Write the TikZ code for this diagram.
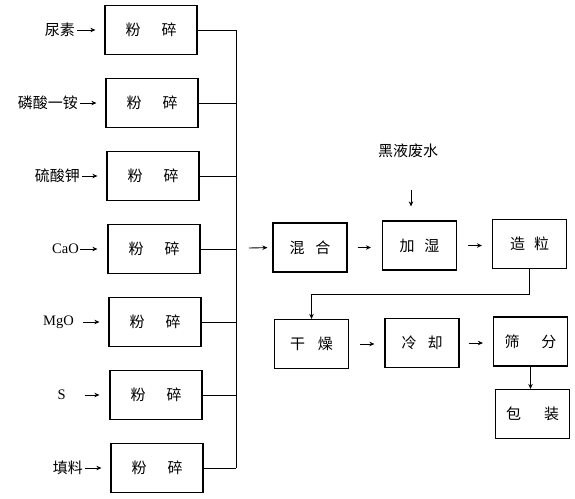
\documentclass[tikz,border=0pt]{standalone}
\usepackage{fontspec}
\setmainfont{Liberation Serif}
\newfontfamily\cjk{Noto Sans CJK SC}
\usetikzlibrary{arrows.meta}
\begin{document}
\begin{tikzpicture}[x=1pt,y=-1pt,
  every node/.style={font=\cjk\fontsize{15}{17}\selectfont},
  lbox/.style={draw,line width=1.2pt,minimum width=92pt,minimum height=49pt,inner sep=0pt},
  rbox/.style={draw,line width=1.2pt,minimum width=74pt,minimum height=49pt,inner sep=0pt},
  lbl/.style={anchor=east,inner sep=0pt},
  latin/.style={font=\fontsize{14.5}{16}\selectfont},
  ln/.style={line width=0.9pt},
  arr/.style={line width=0.9pt,-{Stealth[length=5pt,width=4.5pt]}}]
\useasboundingbox (0,0) rectangle (575,498);
% left column boxes
\node[lbox] (b1) at (151,30)  {粉\hspace{21pt}碎\hspace{18pt}};
\node[lbox] (b2) at (152,103) {粉\hspace{21pt}碎\hspace{18pt}};
\node[lbox] (b3) at (153,176) {粉\hspace{21pt}碎\hspace{18pt}};
\node[lbox] (b4) at (154,249) {粉\hspace{21pt}碎\hspace{18pt}};
\node[lbox] (b5) at (155,322) {粉\hspace{21pt}碎\hspace{18pt}};
\node[lbox] (b6) at (156,395) {粉\hspace{21pt}碎\hspace{18pt}};
\node[lbox] (b7) at (157,468) {粉\hspace{21pt}碎\hspace{18pt}};
% labels
\node[lbl] (l1) at (75,30)  {尿素};
\node[lbl] (l2) at (78,103) {磷酸一铵};
\node[lbl] (l3) at (80,176) {硫酸钾};
\node[lbl,latin] (l4) at (79,249) {CaO};
\node[lbl,latin] (l5) at (74,322) {MgO};
\node[lbl,latin] (l6) at (66,395) {S};
\node[lbl] (l7) at (83,468) {填料};
\draw[arr,shorten <=2pt,shorten >=9pt] (l1.east) -- (b1.west);
\draw[arr,shorten <=2pt,shorten >=9pt] (l2.east) -- (b2.west);
\draw[arr,shorten <=2pt,shorten >=9pt] (l3.east) -- (b3.west);
\draw[arr,shorten <=1pt,shorten >=10pt] (l4.east) -- (b4.west);
\draw[arr,shorten <=9pt,shorten >=9pt] (l5.east) -- (b5.west);
\draw[arr,shorten <=19pt,shorten >=10pt] (l6.east) -- (b6.west);
\draw[arr,shorten <=2pt,shorten >=9pt] (l7.east) -- (b7.west);
% bus
\coordinate (bus) at (236,0);
\foreach \b in {b1,b2,b3,b4,b5,b6,b7}
  \draw[ln] (\b.east) -- (\b.east -| bus);
\draw[ln] (b1.east -| bus) -- (b7.east -| bus);
% right side
\node[rbox] (mix)   at (310,247.5) {混\hspace{11pt}合\hspace{12pt}};
\node[rbox] (hum)   at (419.5,245.5) {加\hspace{10pt}湿\hspace{8pt}};
\node[rbox] (gran)  at (529.5,244) {造\hspace{9pt}粒\hspace{10pt}};
\node[rbox] (dry)   at (311.5,344) {干\hspace{13pt}燥\hspace{10pt}};
\node[rbox] (cool)  at (422,343) {冷\hspace{11pt}却\hspace{10pt}};
\node[rbox] (sieve) at (530.5,341.5) {筛\hspace{22pt}分};
\node[rbox] (pack)  at (532.5,414) {包\hspace{23pt}装};
\coordinate (mixin) at (249,248);
\draw[arr,shorten >=5pt] (mixin) -- (mix.west);
\draw[arr,shorten <=10pt,shorten >=11pt] (mix.east) -- (mix.east -| hum.west);
\draw[arr,shorten <=11pt,shorten >=10pt] (hum.east) -- (hum.east -| gran.west);
\draw[arr,shorten <=11pt,shorten >=10pt] (dry.east) -- (dry.east -| cool.west);
\draw[arr,shorten <=9pt,shorten >=10pt] (cool.east) -- (cool.east -| sieve.west);
\node (ww) at (408,151) {黑液废水};
\coordinate (wwa) at (411,190);
\draw[arr,shorten >=14pt] (wwa) -- (wwa |- hum.north);
\draw[arr] (gran.south) -- ++(0,25) -| (dry.north);
\draw[arr] (sieve.south) -- (sieve.south |- pack.north);
\end{tikzpicture}
\end{document}
